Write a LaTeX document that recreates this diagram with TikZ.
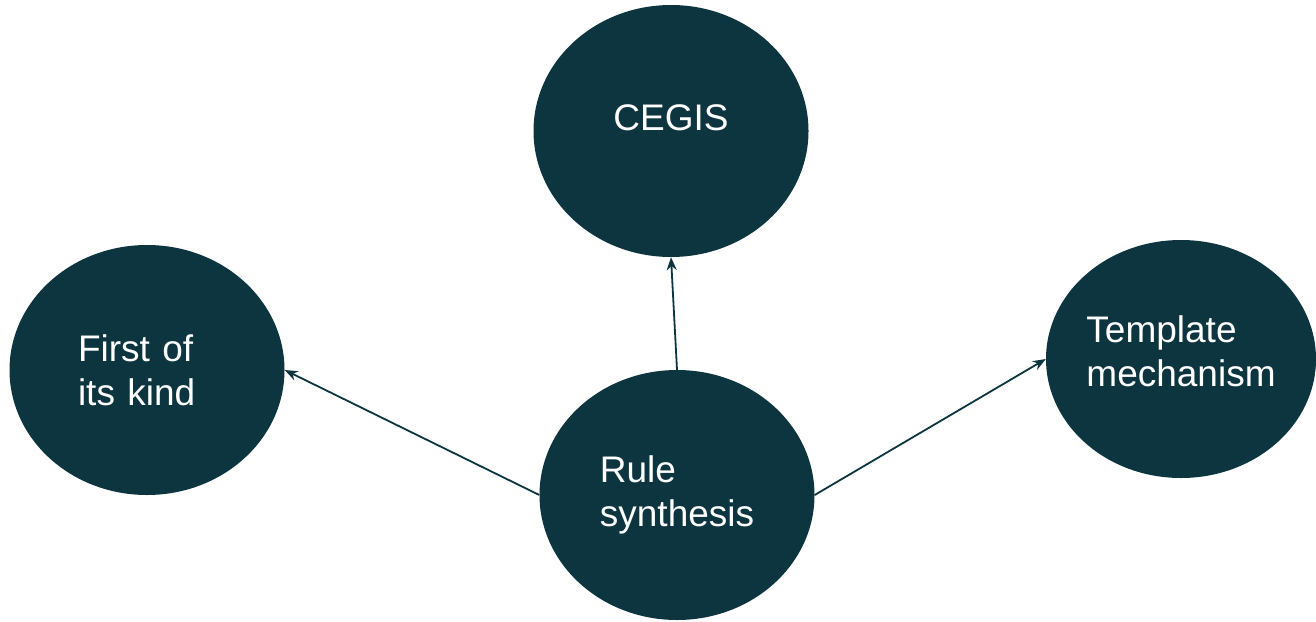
\documentclass[tikz,border=0pt]{standalone}
\usepackage{fontspec}
\setmainfont{Liberation Sans}
\usepackage{tikz}
\usetikzlibrary{ % tikz packages
    shapes.geometric,positioning,
    arrows.meta
}
\definecolor{bubblefill}{HTML}{0D3540}
\tikzset{bubble/.style={
    ellipse,
    fill=bubblefill,
    text=white,
    inner sep=0pt,
    align=left,
    minimum width=275pt,
    minimum height=250pt,
    font=\fontsize{37}{44}\selectfont
}}
\tikzset{link/.style={
    -{Stealth[length=13pt,width=10pt]},
    draw=bubblefill,
    line width=1.8pt
}}

\begin{document}
\begin{tikzpicture}[x=1pt,y=1pt,on grid]
        \useasboundingbox (0,0) rectangle (1316,-621);
        \node[bubble] (rule) at (677,-495) {Rule\\synthesis};

        \node[bubble, minimum height=252pt, text depth=26pt] (cegis) [above=364pt of rule, xshift=-6pt] {CEGIS};

        \node[bubble, text width=138pt] (first) [above left=125pt and 530pt of rule] {First of\\its kind};

        \node[bubble, minimum width=270pt, minimum height=238pt, text depth=16pt] (tmpl) [above right=136pt and 504pt of rule] {Template\\mechanism};

        \draw[link] (rule.north) -- (cegis.south);
        \draw[link] (rule.west) -- (first.east);
        \draw[link] (rule.east) -- (tmpl.west);
    \end{tikzpicture}
\end{document}
